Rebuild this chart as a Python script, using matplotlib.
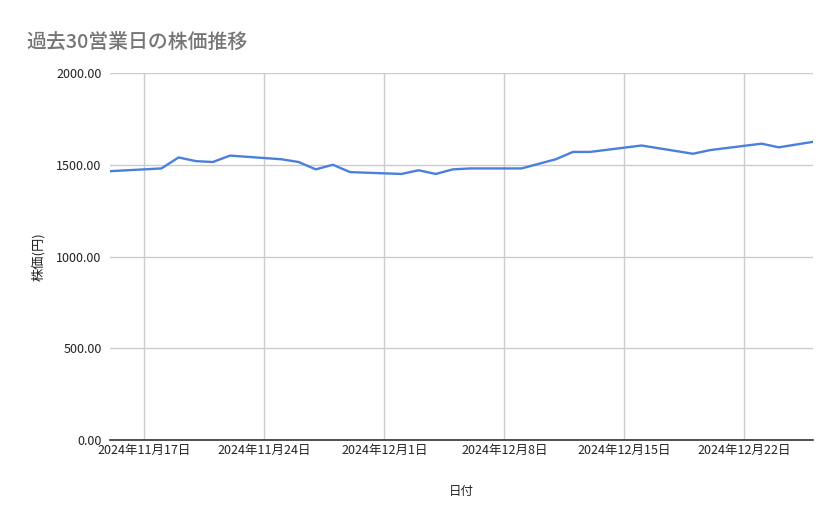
import datetime as dt
import matplotlib
matplotlib.use("Agg")
import matplotlib.pyplot as plt
import matplotlib.dates as mdates
from matplotlib.ticker import FuncFormatter

plt.rcParams['font.family'] = ['Noto Sans CJK JP', 'DejaVu Sans']

# 過去30営業日の株価
dates = [
    "2024-11-15", "2024-11-18", "2024-11-19", "2024-11-20", "2024-11-21", "2024-11-22",
    "2024-11-25", "2024-11-26", "2024-11-27", "2024-11-28", "2024-11-29",
    "2024-12-02", "2024-12-03", "2024-12-04", "2024-12-05", "2024-12-06",
    "2024-12-09", "2024-12-10", "2024-12-11", "2024-12-12", "2024-12-13",
    "2024-12-16", "2024-12-17", "2024-12-18", "2024-12-19", "2024-12-20",
    "2024-12-23", "2024-12-24", "2024-12-25", "2024-12-26",
]
prices = [
    1465, 1480, 1540, 1520, 1515, 1550,
    1530, 1515, 1475, 1500, 1460,
    1450, 1470, 1450, 1475, 1480,
    1480, 1505, 1530, 1570, 1570,
    1605, 1590, 1575, 1560, 1580,
    1615, 1595, 1610, 1625,
]
y_ticks = [0, 500, 1000, 1500, 2000]

x = [dt.datetime.strptime(d, "%Y-%m-%d") for d in dates]

fig = plt.figure(figsize=(8.39, 5.19), dpi=100)
ax = fig.add_axes([0.1311, 0.1522, 0.8379, 0.7071])

ax.plot(x, prices, color="#4a80dc", linewidth=1.7, solid_joinstyle="round")

ax.set_xlim(x[0], x[-1])
ax.set_ylim(0, 2000)
ax.set_yticks(y_ticks)
ax.yaxis.set_major_formatter(FuncFormatter(lambda v, p: f"{v:.2f}"))

ax.xaxis.set_major_locator(mdates.WeekdayLocator(byweekday=mdates.SU))
ax.xaxis.set_major_formatter(FuncFormatter(
    lambda v, p: (lambda d: f"{d.year}年{d.month}月{d.day}日")(mdates.num2date(v))))

ax.grid(True, color="#cccccc", linewidth=1)
ax.set_axisbelow(True)
for side in ["top", "right", "left"]:
    ax.spines[side].set_visible(False)
ax.spines["bottom"].set_color("#333333")
ax.spines["bottom"].set_linewidth(1.2)
ax.tick_params(axis="both", length=0, labelsize=9, colors="#222222")
ax.tick_params(axis="y", pad=6)
ax.tick_params(axis="x", pad=3)

ax.set_xlabel("日付", fontsize=9, color="#222222", labelpad=20)
ax.set_ylabel("株価(円)", fontsize=9.5, color="#222222", labelpad=8)

fig.text(0.032, 0.907, "過去30営業日の株価推移", fontsize=14.3, color="#757575",
         fontweight="medium")

fig.savefig("out.png", dpi=100)
